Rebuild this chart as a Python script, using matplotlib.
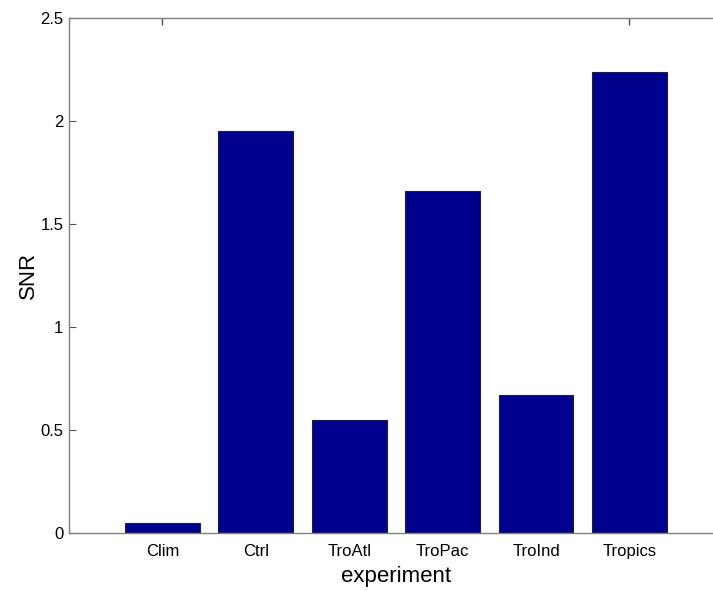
import matplotlib.pyplot as plt
from matplotlib.ticker import FixedLocator

experiments = ['Clim', 'Ctrl', 'TroAtl', 'TroPac', 'TroInd', 'Tropics']
snr = [0.05, 1.95, 0.55, 1.66, 0.67, 2.24]
yticks = [0, 0.5, 1, 1.5, 2, 2.5]

plt.rcParams['font.family'] = ['Liberation Sans', 'DejaVu Sans']

fig = plt.figure(figsize=(7.13, 5.90), dpi=100)
ax = fig.add_axes([0.0968, 0.0966, 0.917, 0.873])
ax.set_axisbelow(True)

pos = list(range(1, len(experiments) + 1))
ax.bar(pos, snr, width=0.8, color='#00008F', edgecolor='#222222', linewidth=0.8)

ax.set_xlim(0, 7)
ax.set_ylim(0, 2.5)
ax.set_yticks(yticks)
ax.set_yticklabels(['0', '0.5', '1', '1.5', '2', '2.5'])
ax.set_xticks(pos)
ax.set_xticklabels(experiments)

ax.spines['right'].set_visible(False)
for s in ['left', 'top', 'bottom']:
    ax.spines[s].set_color('#808080')
    ax.spines[s].set_linewidth(1.0)

ax.tick_params(axis='both', direction='in', length=5, color='#555555', labelsize=12, pad=4)
ax.tick_params(axis='x', pad=8)

# top ticks only at outer categories
ax.xaxis.remove_overlapping_locs = False
ax.xaxis.set_minor_locator(FixedLocator([1, 6]))
ax.tick_params(axis='x', which='minor', top=True, bottom=False, direction='in',
               length=5, width=1, color='#555555', labeltop=False, labelbottom=False)

ax.set_xlabel('experiment', fontsize=16, labelpad=5)
ax.set_ylabel('SNR', fontsize=16, labelpad=1)

fig.savefig('out.png', dpi=100)
